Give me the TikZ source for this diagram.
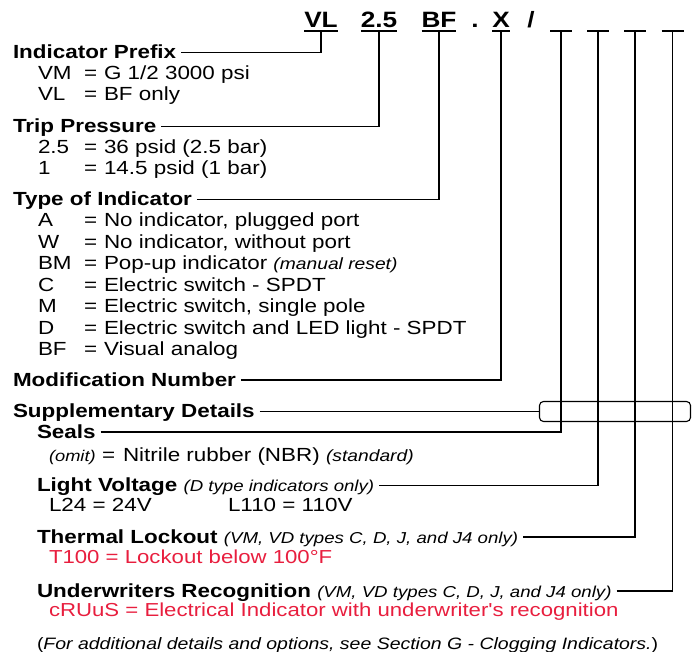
\documentclass[tikz,border=0pt]{standalone}
\usepackage{fontspec}
\setmainfont{Liberation Sans}[FakeStretch=1.18]
\newfontfamily\rawfont{Liberation Sans}[FakeStretch=1.18]
\definecolor{redc}{RGB}{232,30,62}
\newcommand\notetxt[1]{{\fontsize{16.3}{19}\selectfont\itshape #1}}
\newcommand\lownote[1]{{\fontsize{15.8}{19}\selectfont\itshape\mdseries #1}}
\begin{document}
\begin{tikzpicture}[x=1pt,y=-1pt,
  every node/.style={inner sep=0pt, outer sep=0pt, anchor=base west},
  head/.style={font=\fontsize{19}{22}\selectfont\bfseries},
  body/.style={font=\fontsize{19}{22}\selectfont},
  redtext/.style={font=\fontsize{18.8}{22}\selectfont, text=redc},
  foot/.style={font=\fontsize{16.5}{20}\selectfont},
  code/.style={font=\fontsize{22.2}{26}\selectfont\bfseries, anchor=base},
  blank/.style={anchor=base, minimum width=22pt},
  conn/.style={line width=1.1pt},
  uline/.style={line width=1.3pt}]
\useasboundingbox (0,0) rectangle (698,652);

% top code row
\node[code] (tVL) at (321,28) {VL};
\node[code] (t25) at (379,28) {2.5};
\node[code] (tBF) at (439,28) {BF};
\node[code] (tdot) at (475,28) {.};
\node[code] (tX) at (501,28) {X};
\node[code] (tsl) at (531,28) {/};
\node[blank] (b1) at (561,28) {};
\node[blank] (b2) at (598,28) {};
\node[blank] (b3) at (635,28) {};
\node[blank] (b4) at (672.5,28) {};
\foreach \n in {tVL,t25,tBF,tX,b1,b2,b3,b4}
  \draw[uline] ([yshift=-3pt]\n.base west) -- ([yshift=-3pt]\n.base east);

% Indicator prefix
\node[head] (ip) at (13,58.5) {Indicator Prefix};
\node[body] (c1) at (38,79.5) {VM};  \node[body] (e1) at (84,79.5) {=}; \node[body] (d1) at (104,79.5) {G 1/2 3000 psi};
\node[body] (c2) at (38,100.5) {VL};  \node[body] (e2) at (84,100.5) {=}; \node[body] (d2) at (104,100.5) {BF only};

% Trip pressure
\node[head] (tp) at (13,132.5) {Trip Pressure};
\node[body] (c3) at (38,153.5) {2.5}; \node[body] (e3) at (84,153.5) {=}; \node[body] (d3) at (104,153.5) {36 psid (2.5 bar)};
\node[body] (c4) at (38,174.5) {1};   \node[body] (e4) at (84,174.5) {=}; \node[body] (d4) at (104,174.5) {14.5 psid (1 bar)};

% Type of indicator
\node[head] (ti) at (13,205.5) {Type of Indicator};
\node[body] (c5) at (38,226.5) {A};  \node[body] (e5) at (84,226.5) {=}; \node[body] (d5) at (104,226.5) {No indicator, plugged port};
\node[body] (c6) at (38,248) {W};  \node[body] (e6) at (84,248) {=}; \node[body] (d6) at (104,248) {No indicator, without port};
\node[body] (c7) at (38,269.5) {BM}; \node[body] (e7) at (84,269.5) {=}; \node[body] (d7) at (104,269.5) {Pop-up indicator \notetxt{(manual reset)}};
\node[body] (c8) at (38,291) {C};  \node[body] (e8) at (84,291) {=}; \node[body] (d8) at (104,291) {Electric switch - SPDT};
\node[body] (c9) at (38,312.5) {M};  \node[body] (e9) at (84,312.5) {=}; \node[body] (d9) at (104,312.5) {Electric switch, single pole};
\node[body] (c10) at (38,334) {D}; \node[body] (e10) at (84,334) {=}; \node[body] (d10) at (104,334) {Electric switch and LED light - SPDT};
\node[body] (c11) at (38,355.5) {BF}; \node[body] (e11) at (84,355.5) {=}; \node[body] (d11) at (104,355.5) {Visual analog};

% Modification number
\node[head] (mn) at (13,386) {Modification Number};

% Supplementary details
\node[head] (sd) at (13,417.5) {Supplementary Details};
\node[draw, conn, rounded corners=4pt, minimum width=151pt, minimum height=20pt, anchor=center] (bx) at (615,411.5) {};
\node[head] (se) at (37,438) {Seals};
\node[body] (c12) at (49,461) {{\fontsize{15.5}{18}\selectfont\itshape (omit)}}; \node[body] (e12) at (102,461) {=}; \node[body] (d12) at (123,461) {Nitrile rubber (NBR) \notetxt{(standard)}};
\node[head] (lv) at (37,491.5) {Light Voltage \lownote{(D type indicators only)}};
\node[body] (l24) at (49,511) {L24 = 24V};
\node[body] (l110) at (228,511) {L110 = 110V};
\node[head] (tl) at (37,543) {Thermal Lockout \lownote{(VM, VD types C, D, J, and J4 only)}};
\node[redtext] (t100) at (49,563) {T100 = Lockout below 100°F};
\node[head] (ur) at (37,597) {Underwriters Recognition \lownote{(VM, VD types C, D, J, and J4 only)}};
\node[redtext] (cru) at (49,616) {cRUuS = Electrical Indicator with underwriter{\rawfont'}s recognition};
\node[foot] (ft) at (37,649) {(\textit{For additional details and options, see Section G - Clogging Indicators.})};

% connectors
\draw[conn] ([xshift=5pt,yshift=6pt]ip.base east) -| ([yshift=-3pt]tVL.base);
\draw[conn] ([xshift=5pt,yshift=6pt]tp.base east) -| ([yshift=-3pt]t25.base);
\draw[conn] ([xshift=5pt,yshift=6pt]ti.base east) -| ([yshift=-3pt]tBF.base);
\draw[conn] ([xshift=5pt,yshift=6pt]mn.base east) -| ([yshift=-3pt]tX.base);
\draw[conn] ([xshift=5pt,yshift=6pt]sd.base east) -- (bx.west);
\draw[conn] ([xshift=5pt,yshift=6pt]se.base east) -| ([yshift=-3pt]b1.base);
\draw[conn] ([xshift=5pt,yshift=6pt]lv.base east) -| ([yshift=-3pt]b2.base);
\draw[conn] ([xshift=5pt,yshift=6pt]tl.base east) -| ([yshift=-3pt]b3.base);
\draw[conn] ([xshift=5pt,yshift=6pt]ur.base east) -| ([yshift=-3pt]b4.base);
\end{tikzpicture}
\end{document}
